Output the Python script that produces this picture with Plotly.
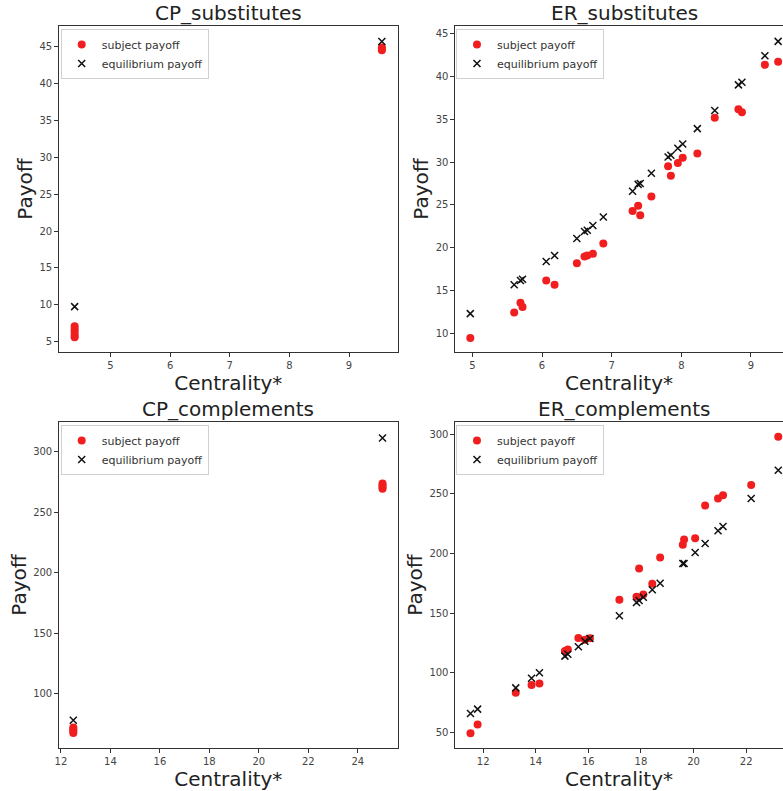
import plotly.graph_objects as go

# ---- CP_substitutes ----
cps_subj_x = [4.4, 4.4, 4.4, 4.4, 4.4, 9.55, 9.55, 9.55]
cps_subj_y = [5.6, 5.9, 6.3, 6.7, 7.1, 44.5, 44.7, 44.9]
cps_eq_x = [4.4, 9.55]
cps_eq_y = [9.75, 45.7]

# ---- ER_substitutes ----
ers_x = [4.97, 5.60, 5.69, 5.72, 6.06, 6.18, 6.50, 6.61, 6.65, 6.73, 6.88,
         7.30, 7.38, 7.41, 7.57, 7.81, 7.85, 7.95, 8.02, 8.23, 8.48, 8.82,
         8.87, 9.20, 9.39]
ers_subj_y = [9.5, 12.45, 13.6, 13.1, 16.2, 15.7, 18.2, 19.0, 19.1, 19.3,
              20.5, 24.3, 24.9, 23.8, 26.0, 29.5, 28.4, 29.9, 30.5, 31.0,
              35.16, 36.17, 35.8, 41.34, 41.7]
ers_eq_y = [12.33, 15.7, 16.2, 16.33, 18.4, 19.1, 21.1, 21.9, 22.05, 22.6,
            23.6, 26.6, 27.4, 27.5, 28.7, 30.6, 30.8, 31.6, 32.1, 33.9,
            36.0, 39.0, 39.3, 42.4, 44.07]

# ---- CP_complements ----
cpc_subj_x = [12.5, 12.5, 12.5, 12.5, 25.0, 25.0, 25.0, 25.0]
cpc_subj_y = [67.5, 69.0, 70.5, 72.0, 269.5, 271.0, 272.5, 274.0]
cpc_eq_x = [12.5, 25.0]
cpc_eq_y = [77.9, 311.6]

# ---- ER_complements ----
erc_x = [11.52, 11.79, 13.24, 13.84, 14.14, 15.11, 15.22, 15.62, 15.87,
         16.06, 17.18, 17.83, 17.93, 18.09, 18.43, 18.73, 19.59, 19.64,
         20.06, 20.44, 20.93, 21.12, 22.19, 23.22]
erc_subj_y = [49.4, 56.7, 83.2, 89.7, 91.1, 118.2, 119.6, 129.1, 127.7,
              129.0, 161.2, 163.7, 187.4, 165.6, 174.6, 196.6, 207.3, 211.7,
              212.8, 240.2, 246.1, 248.9, 257.3, 297.8]
erc_eq_y = [65.9, 69.6, 87.4, 95.5, 100.0, 114.0, 115.6, 121.8, 126.5,
            128.8, 147.8, 158.9, 160.6, 163.4, 169.6, 175.1, 191.6, 191.6,
            200.8, 208.4, 219.0, 222.6, 246.1, 269.8]

titles = ["CP_substitutes", "ER_substitutes", "CP_complements", "ER_complements"]

W, H = 783, 791
RED = "#f01e1e"
FONT = "DejaVu Sans"

panels = [
    (cps_subj_x, cps_subj_y, cps_eq_x, cps_eq_y),
    (ers_x, ers_subj_y, ers_x, ers_eq_y),
    (cpc_subj_x, cpc_subj_y, cpc_eq_x, cpc_eq_y),
    (erc_x, erc_subj_y, erc_x, erc_eq_y),
]

# axes boxes in pixels: (left, right, top, bottom)
boxes = [
    (55, 396, 26, 352),
    (453.3, 783, 26, 352),
    (55, 396, 422, 748),
    (453.3, 783, 422, 748),
]
xranges = [[4.133, 9.82], [4.75, 9.46], [11.91, 25.625], [10.93, 23.40]]
yranges = [[3.6, 47.8], [7.86, 45.86], [55.0, 324.8], [37.0, 310.2]]
xdtick = [1, 1, 2, 2]
ydtick = [5, 5, 50, 50]
# centre of each title (full axes width, including the part past the page edge)
title_cx = [225.5, 623.6, 225.5, 623.6]
title_cy = [13, 13, 409, 409]
legend_pos = [(57, 29), (454.3, 29), (57, 425), (454.3, 425)]

fig = go.Figure()
layout = {}
annotations = []
for i, (sx, sy, ex, ey) in enumerate(panels):
    n = "" if i == 0 else str(i + 1)
    leg = "legend" + n
    fig.add_trace(go.Scatter(
        x=sx, y=sy, mode="markers", name="subject payoff",
        marker=dict(color=RED, size=8, line=dict(width=0)),
        xaxis="x" + n, yaxis="y" + n, legend=leg,
    ))
    fig.add_trace(go.Scatter(
        x=ex, y=ey, mode="markers", name="equilibrium payoff",
        marker=dict(symbol="x-thin", color="#111", size=7,
                    line=dict(width=1.5, color="#111")),
        xaxis="x" + n, yaxis="y" + n, legend=leg,
    ))
    l, r, t, b = boxes[i]
    right_panel = i % 2 == 1
    layout["xaxis" + n] = dict(
        domain=[l / W, r / W], range=xranges[i], anchor="y" + n,
        dtick=xdtick[i], tick0=0, ticks="outside", ticklen=3.5, tickwidth=0.8,
        tickcolor="#333", showgrid=False, zeroline=False,
        showline=True, linecolor="#333", linewidth=1, mirror=True,
        tickfont=dict(size=10, color="#444", family=FONT),
        title=dict(text="Centrality*", font=dict(size=20, color="#222", family=FONT),
                   standoff=0),
    )
    layout["yaxis" + n] = dict(
        domain=[1 - b / H, 1 - t / H], range=yranges[i], anchor="x" + n,
        dtick=ydtick[i], tick0=0, ticks="outside", ticklen=3.5, tickwidth=0.8,
        tickcolor="#333", showgrid=False, zeroline=False,
        showline=True, linecolor="#333", linewidth=1,
        mirror=False if right_panel else True,
        tickfont=dict(size=10, color="#444", family=FONT),
        title=dict(text="Payoff", font=dict(size=20, color="#222", family=FONT),
                   standoff=1),
    )
    lx, ly = legend_pos[i]
    layout[leg] = dict(
        x=lx / W, y=1 - ly / H, xanchor="left", yanchor="top",
        bgcolor="rgba(255,255,255,0.85)", bordercolor="#d0d0d0", borderwidth=1,
        font=dict(size=11, color="#333", family=FONT),
        itemwidth=30, tracegroupgap=0,
    )
    annotations.append(dict(
        text=titles[i], x=title_cx[i] / W, y=1 - title_cy[i] / H,
        xref="paper", yref="paper", xanchor="center", yanchor="middle",
        showarrow=False, font=dict(size=20, color="#222", family=FONT),
    ))

fig.update_layout(
    width=W, height=H,
    margin=dict(l=0, r=0, t=0, b=0),
    paper_bgcolor="white", plot_bgcolor="white",
    annotations=annotations,
    **layout,
)
fig.write_html("out.html")
